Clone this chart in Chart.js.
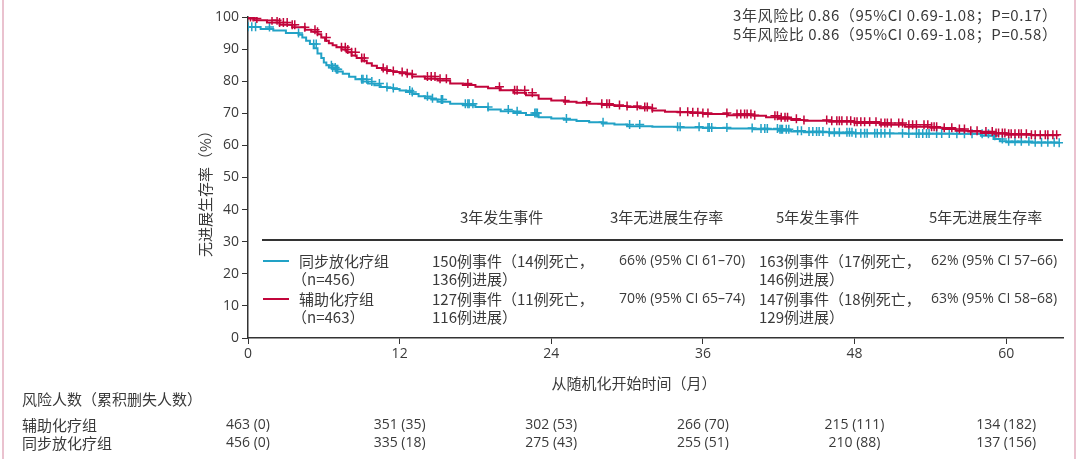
<!DOCTYPE html>
<html>
<head>
<meta charset="utf-8">
<script src="https://cdn.jsdelivr.net/npm/chart.js@4.4.0/dist/chart.umd.min.js"></script>
<style>
html, body { margin: 0; padding: 0; background: #fff; }
#wrap { width: 1080px; height: 459px; position: relative; }
</style>
</head>
<body>
<div id="wrap"><canvas id="km"></canvas></div>
<script>
// 辅助化疗组 - 时间(月) / 无进展生存率(%)
const adjTime = [0, 0.5, 1.5, 2.5, 3.5, 4.5, 5, 5.5, 5.8, 6.1, 6.4, 6.7, 7, 7.4, 7.8, 8.2, 8.6, 9, 9.4, 9.8, 10.2, 10.6, 11, 11.5, 12, 12.5, 13, 14, 15, 16, 17, 18, 19, 20, 21, 22, 23, 24, 25, 26, 27, 28, 29, 30, 31, 32, 33, 34, 35, 36, 38, 40, 41, 42, 43, 44, 46, 48, 50, 52, 54, 55, 56, 57, 58, 59, 60, 62, 64.2];
const adjSurv = [100, 99.5, 99, 98.3, 97.6, 96.8, 96, 95.4, 94.6, 93.6, 92.6, 91.8, 91.2, 90.6, 89.9, 89, 88, 87.2, 86.4, 85.6, 84.8, 84.1, 83.6, 83.2, 82.9, 82.5, 82.2, 81.5, 80.8, 80.2, 79.3, 78.8, 78.3, 77.8, 77.2, 76.4, 75.6, 74.5, 74, 73.6, 73.3, 73, 72.6, 72.3, 72, 71.6, 70.9, 70.5, 70.3, 70.1, 69.8, 69.4, 69.2, 68.8, 68.3, 67.9, 67.7, 67.4, 67, 66.4, 65.8, 65.5, 65.1, 64.6, 64.3, 63.9, 63.6, 63.3, 63.2];

// 同步放化疗组
const crtTime = [0, 1, 2, 3, 4, 4.3, 4.6, 4.9, 5.2, 5.5, 5.8, 6, 6.2, 6.4, 6.7, 7, 7.5, 8, 8.5, 9, 9.5, 10, 10.5, 11, 11.5, 12, 12.5, 13, 13.5, 14, 14.5, 15, 16, 17, 18, 19, 20, 21, 22, 23, 24, 25, 26, 27, 28, 29, 30, 32, 34, 36, 38, 40, 42, 43, 44, 46, 48, 52, 56, 58, 59, 59.5, 60, 62, 64.2];
const crtSurv = [97, 96.9, 96.3, 95.8, 95, 94.5, 93.6, 92.6, 91.6, 90.3, 88.6, 87.2, 85.8, 85, 84.3, 83.7, 83, 82.3, 81.4, 80.6, 79.9, 79.3, 78.7, 78.2, 77.9, 77.6, 77.1, 76.6, 76, 75.3, 74.7, 74.3, 73.6, 73, 72.5, 72, 71.2, 70.6, 70.1, 69.5, 68.8, 68.4, 68, 67.6, 67.2, 66.8, 66.5, 66, 65.8, 65.6, 65.4, 65.3, 65, 64.6, 64.3, 64.1, 63.8, 63.7, 63.6, 63.6, 63, 62, 61.3, 61, 60.8];

// 删失时间(月)
const adjCensor = [0.2, 0.4, 0.7, 1.9, 2.3, 2.5, 2.8, 3.1, 3.5, 3.7, 4.5, 5.3, 5.5, 6.2, 7.4, 7.7, 7.9, 8.2, 8.5, 9, 9.2, 10.7, 11, 11.5, 12.2, 12.6, 13, 14.2, 14.5, 14.8, 15.2, 15.7, 17.4, 19.9, 21.1, 21.3, 21.9, 22.5, 25.1, 26.8, 28, 28.4, 28.6, 29.4, 30, 30.8, 31.4, 31.6, 32, 34.2, 34.8, 35.2, 35.6, 36, 36.4, 37.9, 38.7, 39, 39.3, 39.5, 39.8, 40.1, 41.7, 41.9, 42.2, 42.5, 42.7, 43.4, 44, 45.8, 46.2, 46.6, 46.8, 47, 47.4, 47.7, 48, 48.2, 48.5, 48.8, 49.2, 49.7, 50.1, 50.4, 50.6, 50.9, 51.5, 51.8, 52.3, 52.6, 52.9, 53.5, 53.8, 54.1, 54.3, 54.5, 55.1, 55.7, 56.3, 56.7, 57.2, 57.7, 58.4, 58.9, 59.2, 59.4, 59.7, 59.9, 60.2, 60.4, 60.7, 61, 61.2, 61.6, 62, 62.3, 62.7, 63.1, 63.3, 63.7, 64];
const crtCensor = [0, 0.3, 0.6, 1.7, 4, 5.2, 5.4, 6.6, 6.7, 6.9, 7, 7.1, 9, 9.1, 9.4, 9.8, 10.4, 11, 11.5, 12.8, 13, 14.2, 14.6, 15.3, 15.4, 17.2, 17.4, 17.5, 17.8, 19, 20.6, 21.3, 22.7, 22.8, 22.9, 25.2, 28.1, 30.2, 31, 34, 34.2, 35.7, 36.4, 36.5, 36.7, 37.9, 39.9, 40.6, 40.9, 41.1, 41.9, 42.1, 42.2, 42.3, 42.6, 42.8, 43.5, 43.8, 44.4, 44.7, 45, 45.2, 45.5, 46, 46.4, 46.8, 47.4, 47.6, 47.8, 48.1, 48.5, 48.8, 49, 49.6, 49.8, 50.1, 50.4, 50.8, 51.8, 52.3, 52.9, 53.1, 53.4, 53.7, 53.9, 54.5, 54.9, 55.5, 56.1, 56.7, 57.3, 58.1, 58.6, 59.1, 59.7, 60.2, 60.7, 61.2, 61.8, 62.3, 62.8, 63.3, 63.8, 64.2];

const xTicks = [0, 12, 24, 36, 48, 60];
const riskAdj = ['463 (0)', '351 (35)', '302 (53)', '266 (70)', '215 (111)', '134 (182)'];
const riskCrt = ['456 (0)', '335 (18)', '275 (43)', '255 (51)', '210 (88)', '137 (156)'];

const RED = '#c2053b';
const CYAN = '#22a2c6';
const TXT = '#3a3a3a';
const CJK = '"Noto Sans CJK SC", sans-serif';
const LAT = '"Open Sans", sans-serif';

// KM 阶梯取值：取时间 <= t 的最后一个点
function survAt(times, vals, t) {
    let v = vals[0];
    for (let i = 0; i < times.length; i++) {
        if (times[i] <= t) v = vals[i];
    }
    return v;
}

const toPts = (ts, vs) => ts.map((t, i) => ({ x: t, y: vs[i] }));

// 所有图上文字
const textPlugin = {
    id: 'kmText',
    afterDraw(chart) {
        const ctx = chart.ctx;
        const xs = chart.scales.x;
        ctx.save();

        // 左右粉色边线
        ctx.strokeStyle = '#e3aec0';
        ctx.lineWidth = 1.5;
        ctx.beginPath();
        ctx.moveTo(3, 0); ctx.lineTo(3, 459);
        ctx.moveTo(1075, 0); ctx.lineTo(1075, 459);
        ctx.stroke();

        ctx.fillStyle = TXT;
        ctx.textBaseline = 'middle';

        // 风险比
        ctx.font = '15px ' + CJK;
        ctx.textAlign = 'left';
        ctx.letterSpacing = '0.6px';
        ctx.fillText('3年风险比 0.86（95%CI 0.69-1.08；P=0.17）', 733, 15);
        ctx.fillText('5年风险比 0.86（95%CI 0.69-1.08；P=0.58）', 733, 34);
        ctx.letterSpacing = '0px';

        // y轴标题
        ctx.save();
        ctx.translate(205, 190);
        ctx.rotate(-Math.PI / 2);
        ctx.textAlign = 'center';
        ctx.font = '15px ' + CJK;
        ctx.fillText('无进展生存率（%）', 0, 0);
        ctx.restore();

        // 表头
        ctx.font = '15px ' + CJK;
        ctx.textAlign = 'left';
        ctx.fillText('3年发生事件', 460, 217);
        ctx.fillText('3年无进展生存率', 610, 217);
        ctx.fillText('5年发生事件', 776, 217);
        ctx.fillText('5年无进展生存率', 929, 217);

        ctx.strokeStyle = '#333';
        ctx.lineWidth = 2;
        ctx.beginPath();
        ctx.moveTo(262, 240); ctx.lineTo(1063, 240);
        ctx.stroke();

        // 图例线段
        ctx.lineWidth = 2;
        ctx.strokeStyle = CYAN;
        ctx.beginPath(); ctx.moveTo(263, 261); ctx.lineTo(289, 261); ctx.stroke();
        ctx.strokeStyle = RED;
        ctx.beginPath(); ctx.moveTo(263, 299); ctx.lineTo(289, 299); ctx.stroke();

        ctx.font = '15px ' + CJK;
        ctx.fillText('同步放化疗组', 299, 261);
        ctx.fillText('（n=456）', 292, 279);
        ctx.fillText('辅助化疗组', 299, 299);
        ctx.fillText('（n=463）', 292, 317);

        ctx.fillText('150例事件（14例死亡，', 432, 261);
        ctx.fillText('136例进展）', 432, 279);
        ctx.fillText('127例事件（11例死亡，', 432, 299);
        ctx.fillText('116例进展）', 432, 317);
        ctx.fillText('163例事件（17例死亡，', 759, 261);
        ctx.fillText('146例进展）', 759, 279);
        ctx.fillText('147例事件（18例死亡，', 759, 299);
        ctx.fillText('129例进展）', 759, 317);

        ctx.font = '14px ' + LAT;
        ctx.fillText('66% (95% CI 61–70)', 619, 261);
        ctx.fillText('70% (95% CI 65–74)', 619, 299);
        ctx.fillText('62% (95% CI 57–66)', 931, 261);
        ctx.fillText('63% (95% CI 58–68)', 931, 299);

        // x轴标题
        ctx.font = '15px ' + CJK;
        ctx.textAlign = 'center';
        ctx.fillText('从随机化开始时间（月）', 634, 383);

        // 风险人数表
        ctx.textAlign = 'left';
        ctx.fillText('风险人数（累积删失人数）', 22, 399);
        ctx.fillText('辅助化疗组', 22, 425);
        ctx.fillText('同步放化疗组', 22, 443);

        ctx.font = '14px ' + LAT;
        ctx.textAlign = 'center';
        xTicks.forEach((t, i) => {
            const px = xs.getPixelForValue(t);
            ctx.fillText(riskAdj[i], px, 425);
            ctx.fillText(riskCrt[i], px, 443);
        });

        ctx.restore();
    }
};

new Chart(document.getElementById('km'), {
    type: 'line',
    data: {
        datasets: [
            {
                label: '辅助化疗组',
                data: toPts(adjTime, adjSurv),
                borderColor: RED,
                borderWidth: 2,
                stepped: 'after',
                pointRadius: 0,
                fill: false
            },
            {
                label: '辅助化疗组 删失',
                type: 'scatter',
                data: adjCensor.map(t => ({ x: t, y: survAt(adjTime, adjSurv, t) })),
                borderColor: RED,
                backgroundColor: RED,
                pointStyle: 'cross',
                pointRadius: 4.5,
                borderWidth: 1.5,
                showLine: false
            },
            {
                label: '同步放化疗组',
                data: toPts(crtTime, crtSurv),
                borderColor: CYAN,
                borderWidth: 2,
                stepped: 'after',
                pointRadius: 0,
                fill: false
            },
            {
                label: '同步放化疗组 删失',
                type: 'scatter',
                data: crtCensor.map(t => ({ x: t, y: survAt(crtTime, crtSurv, t) })),
                borderColor: CYAN,
                backgroundColor: CYAN,
                pointStyle: 'cross',
                pointRadius: 4.5,
                borderWidth: 1.5,
                showLine: false
            }
        ]
    },
    options: {
        responsive: true,
        maintainAspectRatio: false,
        animation: false,
        layout: { padding: { left: 0, right: 17, top: 17, bottom: 0 } },
        plugins: {
            legend: { display: false },
            tooltip: { enabled: false }
        },
        scales: {
            x: {
                type: 'linear',
                min: 0,
                max: 64.5,
                afterFit: s => { s.height = 121; },
                afterBuildTicks: s => { s.ticks = xTicks.map(v => ({ value: v })); },
                grid: { drawOnChartArea: false, drawTicks: true, tickLength: 6, color: '#333' },
                border: { display: true, color: '#333', width: 1.5 },
                ticks: { color: TXT, font: { family: 'Open Sans', size: 14 }, padding: 2, maxRotation: 0 }
            },
            y: {
                min: 0,
                max: 100,
                afterFit: s => { s.width = 248; },
                grid: { drawOnChartArea: false, drawTicks: true, tickLength: 6, color: '#333' },
                border: { display: true, color: '#333', width: 1.5 },
                ticks: { stepSize: 10, color: TXT, font: { family: 'Open Sans', size: 14 }, padding: 3 }
            }
        }
    },
    plugins: [textPlugin]
});
</script>
</body>
</html>
